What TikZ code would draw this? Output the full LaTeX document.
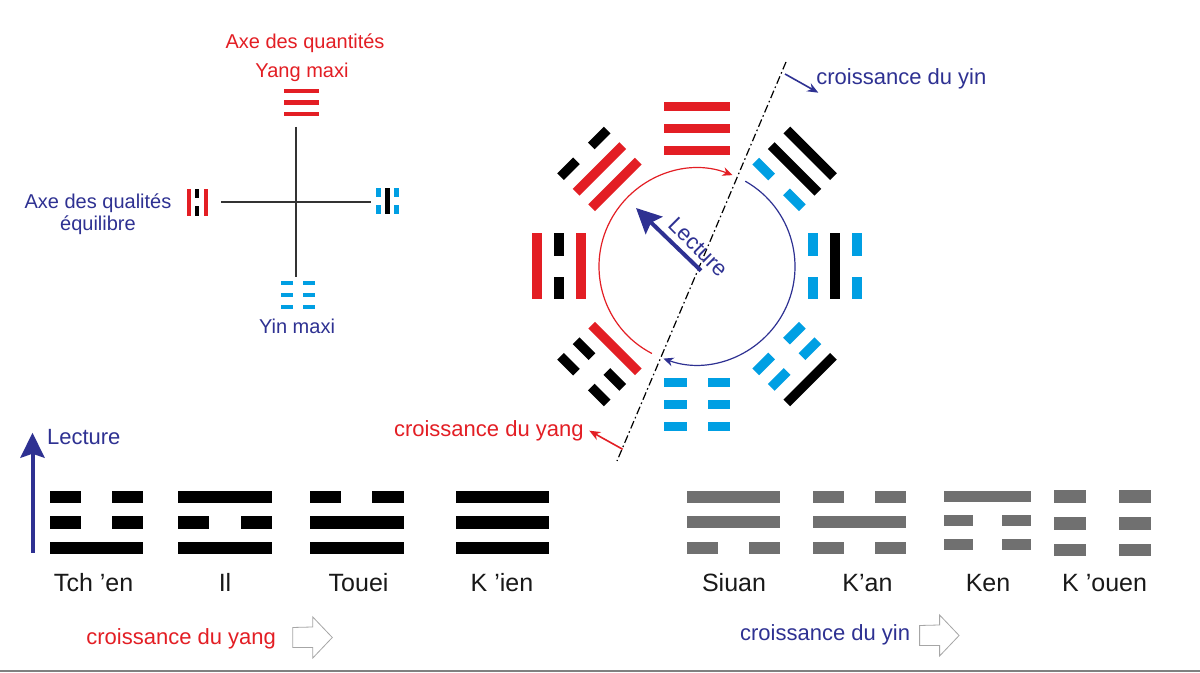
\documentclass[tikz,border=0pt]{standalone}
\usepackage{fontspec}
\setmainfont{Liberation Sans}
\usetikzlibrary{arrows.meta}
\usetikzlibrary{calc}

\definecolor{yangred}{RGB}{227,30,36}
\definecolor{yinblue}{RGB}{0,159,227}
\definecolor{navy}{RGB}{46,49,146}
\definecolor{bargray}{RGB}{112,112,112}

% one line of a trigram, centred on x=0 at height #2
\newcommand{\yangbar}[2]{\fill[#1] (-\barlen/2,#2-\barw/2) rectangle (\barlen/2,#2+\barw/2);}
\newcommand{\yinbar}[2]{\fill[#1] (-\barlen/2,#2-\barw/2) rectangle (-\bargap/2,#2+\barw/2);
	\fill[#1] (\bargap/2,#2-\barw/2) rectangle (\barlen/2,#2+\barw/2);}
% three lines, listed from the bottom one up
\newcommand{\trigram}[1]{\foreach \kind/\col [count=\k from 0] in #1
	{\csname\kind bar\endcsname{\col}{\k*\barsep}}}

\tikzset{
	lbl/.style={font=\fontsize{11}{13}\selectfont, inner sep=0pt},
	axe/.style={font=\fontsize{10}{12}\selectfont, inner sep=0pt},
	trname/.style={font=\fontsize{12.5}{15}\selectfont, text=black!90, inner sep=0pt, anchor=base},
	growarrow/.style={line width=0.8pt, -{Stealth[length=5.5pt,width=4.5pt]}},
	readarrow/.style={navy, line width=2pt, -{Stealth[length=12.5pt,width=12pt,inset=2pt]}}
}

\begin{document}
\begin{tikzpicture}[x=0.5pt,y=0.5pt]
	\fill[white] (0,0) rectangle (1200,673);
	\useasboundingbox (0,0) rectangle (1200,673);

	% the two axes
	\coordinate (vtop) at (296,546);
	\coordinate (vbot) at (296,396);
	\coordinate (hleft) at (221,471);
	\coordinate (hright) at (371,471);
	\draw[black!80, line width=0.65pt] (vtop) -- (vbot);
	\draw[black!80, line width=0.65pt] (hleft) -- (hright);

	\node[axe, text=yangred, anchor=base] (quant) at (305,624.7) {Axe des quantités};
	\node[axe, text=yangred, anchor=base] (yangmax) at (302,595.7) {Yang maxi};
	\node[axe, text=navy, anchor=base] (qual) at (98,464) {Axe des qualités};
	\node[axe, text=navy, anchor=base] (equi) at (98,442.3) {équilibre};
	\node[axe, text=navy, anchor=base] (yinmax) at (297,339.7) {Yin maxi};

	% small trigrams round the axes
	\begin{scope}[shift={(301.5,559)}]
		\def\barlen{35}\def\barw{4.5}\def\bargap{10}\def\barsep{11.5}
		\trigram{{yang/yangred,yang/yangred,yang/yangred}}
	\end{scope}
	\begin{scope}[shift={(206,470.5)}, rotate=90]
		\def\barlen{27}\def\barw{4}\def\bargap{8}\def\barsep{8.65}
		\trigram{{yang/yangred,yin/black,yang/yangred}}
	\end{scope}
	\begin{scope}[shift={(378.5,472)}, rotate=-90]
		\def\barlen{26}\def\barw{4.5}\def\bargap{8}\def\barsep{9}
		\trigram{{yin/yinblue,yang/black,yin/yinblue}}
	\end{scope}
	\begin{scope}[shift={(298,390)}, rotate=180]
		\def\barlen{34}\def\barw{4}\def\bargap{10}\def\barsep{12}
		\trigram{{yin/yinblue,yin/yinblue,yin/yinblue}}
	\end{scope}

	% octagon of the eight trigrams, bottom line towards the centre
	\coordinate (ctr) at (697,406.5);
	\def\barlen{66}\def\barw{9.5}\def\bargap{21}\def\barsep{22}
	\foreach \a/\lines in {90/{yang/yangred,yang/yangred,yang/yangred},
		135/{yang/yangred,yang/yangred,yin/black},
		180/{yang/yangred,yin/black,yang/yangred},
		225/{yang/yangred,yin/black,yin/black},
		270/{yin/yinblue,yin/yinblue,yin/yinblue},
		315/{yin/yinblue,yin/yinblue,yang/black},
		0/{yin/yinblue,yang/black,yin/yinblue},
		45/{yin/yinblue,yang/black,yang/black}}
		{\begin{scope}[shift={(ctr)}, rotate=\a-90, shift={(0,116)}]
			\trigram{\lines}
		\end{scope}}

	% the circle in two arcs
	\draw[yangred, line width=0.6pt, -{Stealth[length=5pt,width=4.5pt]}] (ctr) ++(242.6:98) arc[start angle=242.6, end angle=68.8, radius=98];
	\draw[navy, line width=0.6pt, -{Stealth[length=5pt,width=4.5pt]}] (ctr) ++(60.5:98) arc[start angle=60.5, end angle=-110, radius=98];

	% dividing line
	\coordinate (axtop) at (786,611);
	\coordinate (axbot) at (617,212);
	\draw[line width=0.6pt, dash pattern=on 4pt off 1.5pt on 0.8pt off 1.5pt] (axtop) -- (axbot);

	\coordinate (yinfoot) at (785,599);
	\coordinate (yintip) at (818.3,580.3);
	\draw[growarrow, navy] (yinfoot) -- (yintip);
	\node[lbl, text=navy, anchor=base west] (yintxt) at (816,588) {croissance du yin};

	\coordinate (yangfoot) at (622.7,223.7);
	\coordinate (yangtip) at (589.3,242.3);
	\draw[growarrow, yangred] (yangfoot) -- (yangtip);
	\node[lbl, text=yangred, anchor=base east] (yangtxt) at (584,236) {croissance du yang};

	\coordinate (lectail) at (701,402.3);
	\coordinate (lectip) at (636,465);
	\draw[readarrow] (lectail) -- (lectip);
	\node[lbl, text=navy, rotate=-45] (lecoct) at (698,426) {Lecture};

	% the eight trigrams in a row
	\coordinate (lbot) at (32.5,120);
	\coordinate (ltop) at (32.5,240.3);
	\draw[readarrow] (lbot) -- (ltop);
	\node[lbl, text=navy, anchor=base west] (lecrow) at (46.7,228) {Lecture};

	\foreach \x/\bl/\lines/\nx/\name [count=\n] in {
		96.7/93.5/{yang/black,yin/black,yin/black}/93.6/Tch ’en,
		225/93.5/{yang/black,yin/black,yang/black}/225/Il,
		356.9/93.5/{yang/black,yang/black,yin/black}/358.6/Touei,
		502.3/93.5/{yang/black,yang/black,yang/black}/502/K ’ien,
		733.6/93/{yin/bargray,yang/bargray,yang/bargray}/734/Siuan,
		859.1/93/{yin/bargray,yang/bargray,yin/bargray}/867.5/K’an,
		987.9/87/{yin/bargray,yin/bargray,yang/bargray}/988/Ken,
		1102.5/97/{yin/bargray,yin/bargray,yin/bargray}/1104.6/K ’ouen}
	{
		\pgfmathsetmacro\barlen{\bl}
		\pgfmathsetmacro\bargap{\bl/3}
		\pgfmathsetmacro\barsep{0.275*\bl}
		\pgfmathsetmacro\barw{0.132*\bl}
		\begin{scope}[shift={(\x,176.3-2*\barsep)}]
			\trigram{\lines}
		\end{scope}
		\node[trname] (name\n) at (\nx,81.3) {\name};
	}

	% hollow arrows and their labels
	\node[lbl, text=yangred, anchor=base west] (yanggrow) at (86,28) {croissance du yang};
	\node[lbl, text=navy, anchor=base west] (yingrow) at (739.7,32.3) {croissance du yin};
	\foreach \ax/\ay in {292.8/35.5, 919.6/37.5}
		\draw[gray!70, line width=0.4pt] (\ax,\ay-10) -- ++(20,0) -- ++(0,-10.5) -- (\ax+39.5,\ay) -- (\ax+20,\ay+20.5) -- ++(0,-10) -- (\ax,\ay+10) -- cycle;

	\coordinate (footl) at (0,1.5);
	\coordinate (footr) at (1200,1.5);
	\draw[gray, line width=1pt] (footl) -- (footr);
\end{tikzpicture}
\end{document}
